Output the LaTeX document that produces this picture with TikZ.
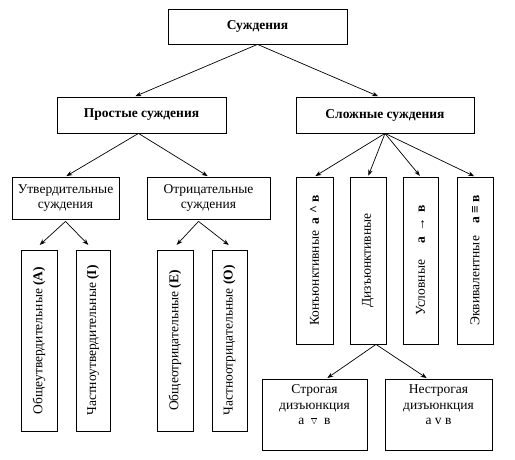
\documentclass[tikz,border=0pt]{standalone}
\usepackage{fontspec}
\setmainfont{Liberation Serif}
\usetikzlibrary{arrows.meta,calc}
\begin{document}
\begin{tikzpicture}[x=1pt,y=-1pt,
  box/.style={draw,line width=0.8pt,inner sep=0pt,align=center,font=\fontsize{13.5}{15}\selectfont},
  vbox/.style={box,rotate=90},
  conn/.style={line width=0.7pt,-{Stealth[length=6pt,width=4.5pt]},shorten >=1pt}]
\useasboundingbox (0,0) rectangle (515,460);
\node[box,minimum width=179pt,minimum height=35pt,font=\fontsize{13.5}{15}\selectfont\bfseries] (top) at (257.5,26.5) {Суждения};
\node[box,minimum width=169pt,minimum height=36pt,font=\fontsize{13.5}{15}\selectfont\bfseries] (prost) at (141.5,115) {Простые суждения};
\node[box,minimum width=178pt,minimum height=36pt,font=\fontsize{13.5}{15}\selectfont\bfseries] (slozh) at (385,115) {Сложные суждения};
\node[box,minimum width=107pt,minimum height=42pt] (utv) at (65.5,198) {Утвердительные\\суждения};
\node[box,minimum width=123pt,minimum height=42pt] (otr) at (208.5,198) {Отрицательные\\суждения};
\node[vbox,minimum width=181pt,minimum height=36pt] (A) at (39,340.5) {Общеутвердительные \textbf{(А)}};
\node[vbox,minimum width=181pt,minimum height=34pt] (I) at (93,340.5) {Частноутвердительные \textbf{(I)}};
\node[vbox,minimum width=181pt,minimum height=36pt] (E) at (175,340.5) {Общеотрицательные \textbf{(Е)}};
\node[vbox,minimum width=181pt,minimum height=35pt] (O) at (229.5,340.5) {Частноотрицательные \textbf{(О)}};
\node[vbox,minimum width=167pt,minimum height=37pt] (kon) at (314.5,260.5) {Конъюнктивные\ \ \textbf{а \textasciicircum\ в}};
\node[vbox,minimum width=167pt,minimum height=36pt] (diz) at (368,260.5) {Дизъюнктивные};
\node[vbox,minimum width=167pt,minimum height=35pt] (usl) at (420.5,260.5) {Условные\hspace{16pt}\textbf{а \,→\, в}};
\node[vbox,minimum width=167pt,minimum height=36pt] (ekv) at (475,260.5) {Эквивалентные\hspace{12pt}\textbf{а ≡ в}};
\node[box,minimum width=105pt,minimum height=71pt] (strog) at (314.5,414.5) {};
\node[box,minimum width=107pt,minimum height=71pt] (nestrog) at (438.5,414.5) {};
\node[anchor=north,align=center,inner sep=0pt,font=\fontsize{13.5}{15.5}\selectfont] (strogt) at ($(strog.north)+(0,6)$) {Строгая\\дизъюнкция\\а\ \ \smash{$\overline{\scriptstyle\vee}$}\ \ в};
\node[anchor=north,align=center,inner sep=0pt,font=\fontsize{13.5}{15.5}\selectfont] (nestrogt) at ($(nestrog.north)+(0,6)$) {Нестрогая\\дизъюнкция\\а v в};
\draw[conn] (top.south) -- ($(prost.north)+(-7,0)$);
\draw[conn] (top.south) -- ($(slozh.north)+(-6,0)$);
\draw[conn] ($(prost.south)+(-3,0)$) -- (utv.north);
\draw[conn] ($(prost.south)+(-3,0)$) -- (otr.north);
\draw[conn] (slozh.south) -- (kon.east);
\draw[conn] (slozh.south) -- (diz.east);
\draw[conn] (slozh.south) -- (usl.east);
\draw[conn] (slozh.south) -- (ekv.east);
\draw[conn] ($(utv.south)+(0,2)$) -- ($(A.east)+(0,-4)$);
\draw[conn] ($(utv.south)+(0,2)$) -- ($(I.east)+(-4,-4)$);
\draw[conn] ($(otr.south)+(-10,2)$) -- ($(E.east)+(1,-4)$);
\draw[conn] ($(otr.south)+(-10,2)$) -- ($(O.east)+(0,-4)$);
\draw[conn] ($(diz.west)+(8,0)$) -- ($(strog.north)+(12,0)$);
\draw[conn] ($(diz.west)+(8,0)$) -- ($(nestrog.north)+(-11,0)$);
\end{tikzpicture}
\end{document}
